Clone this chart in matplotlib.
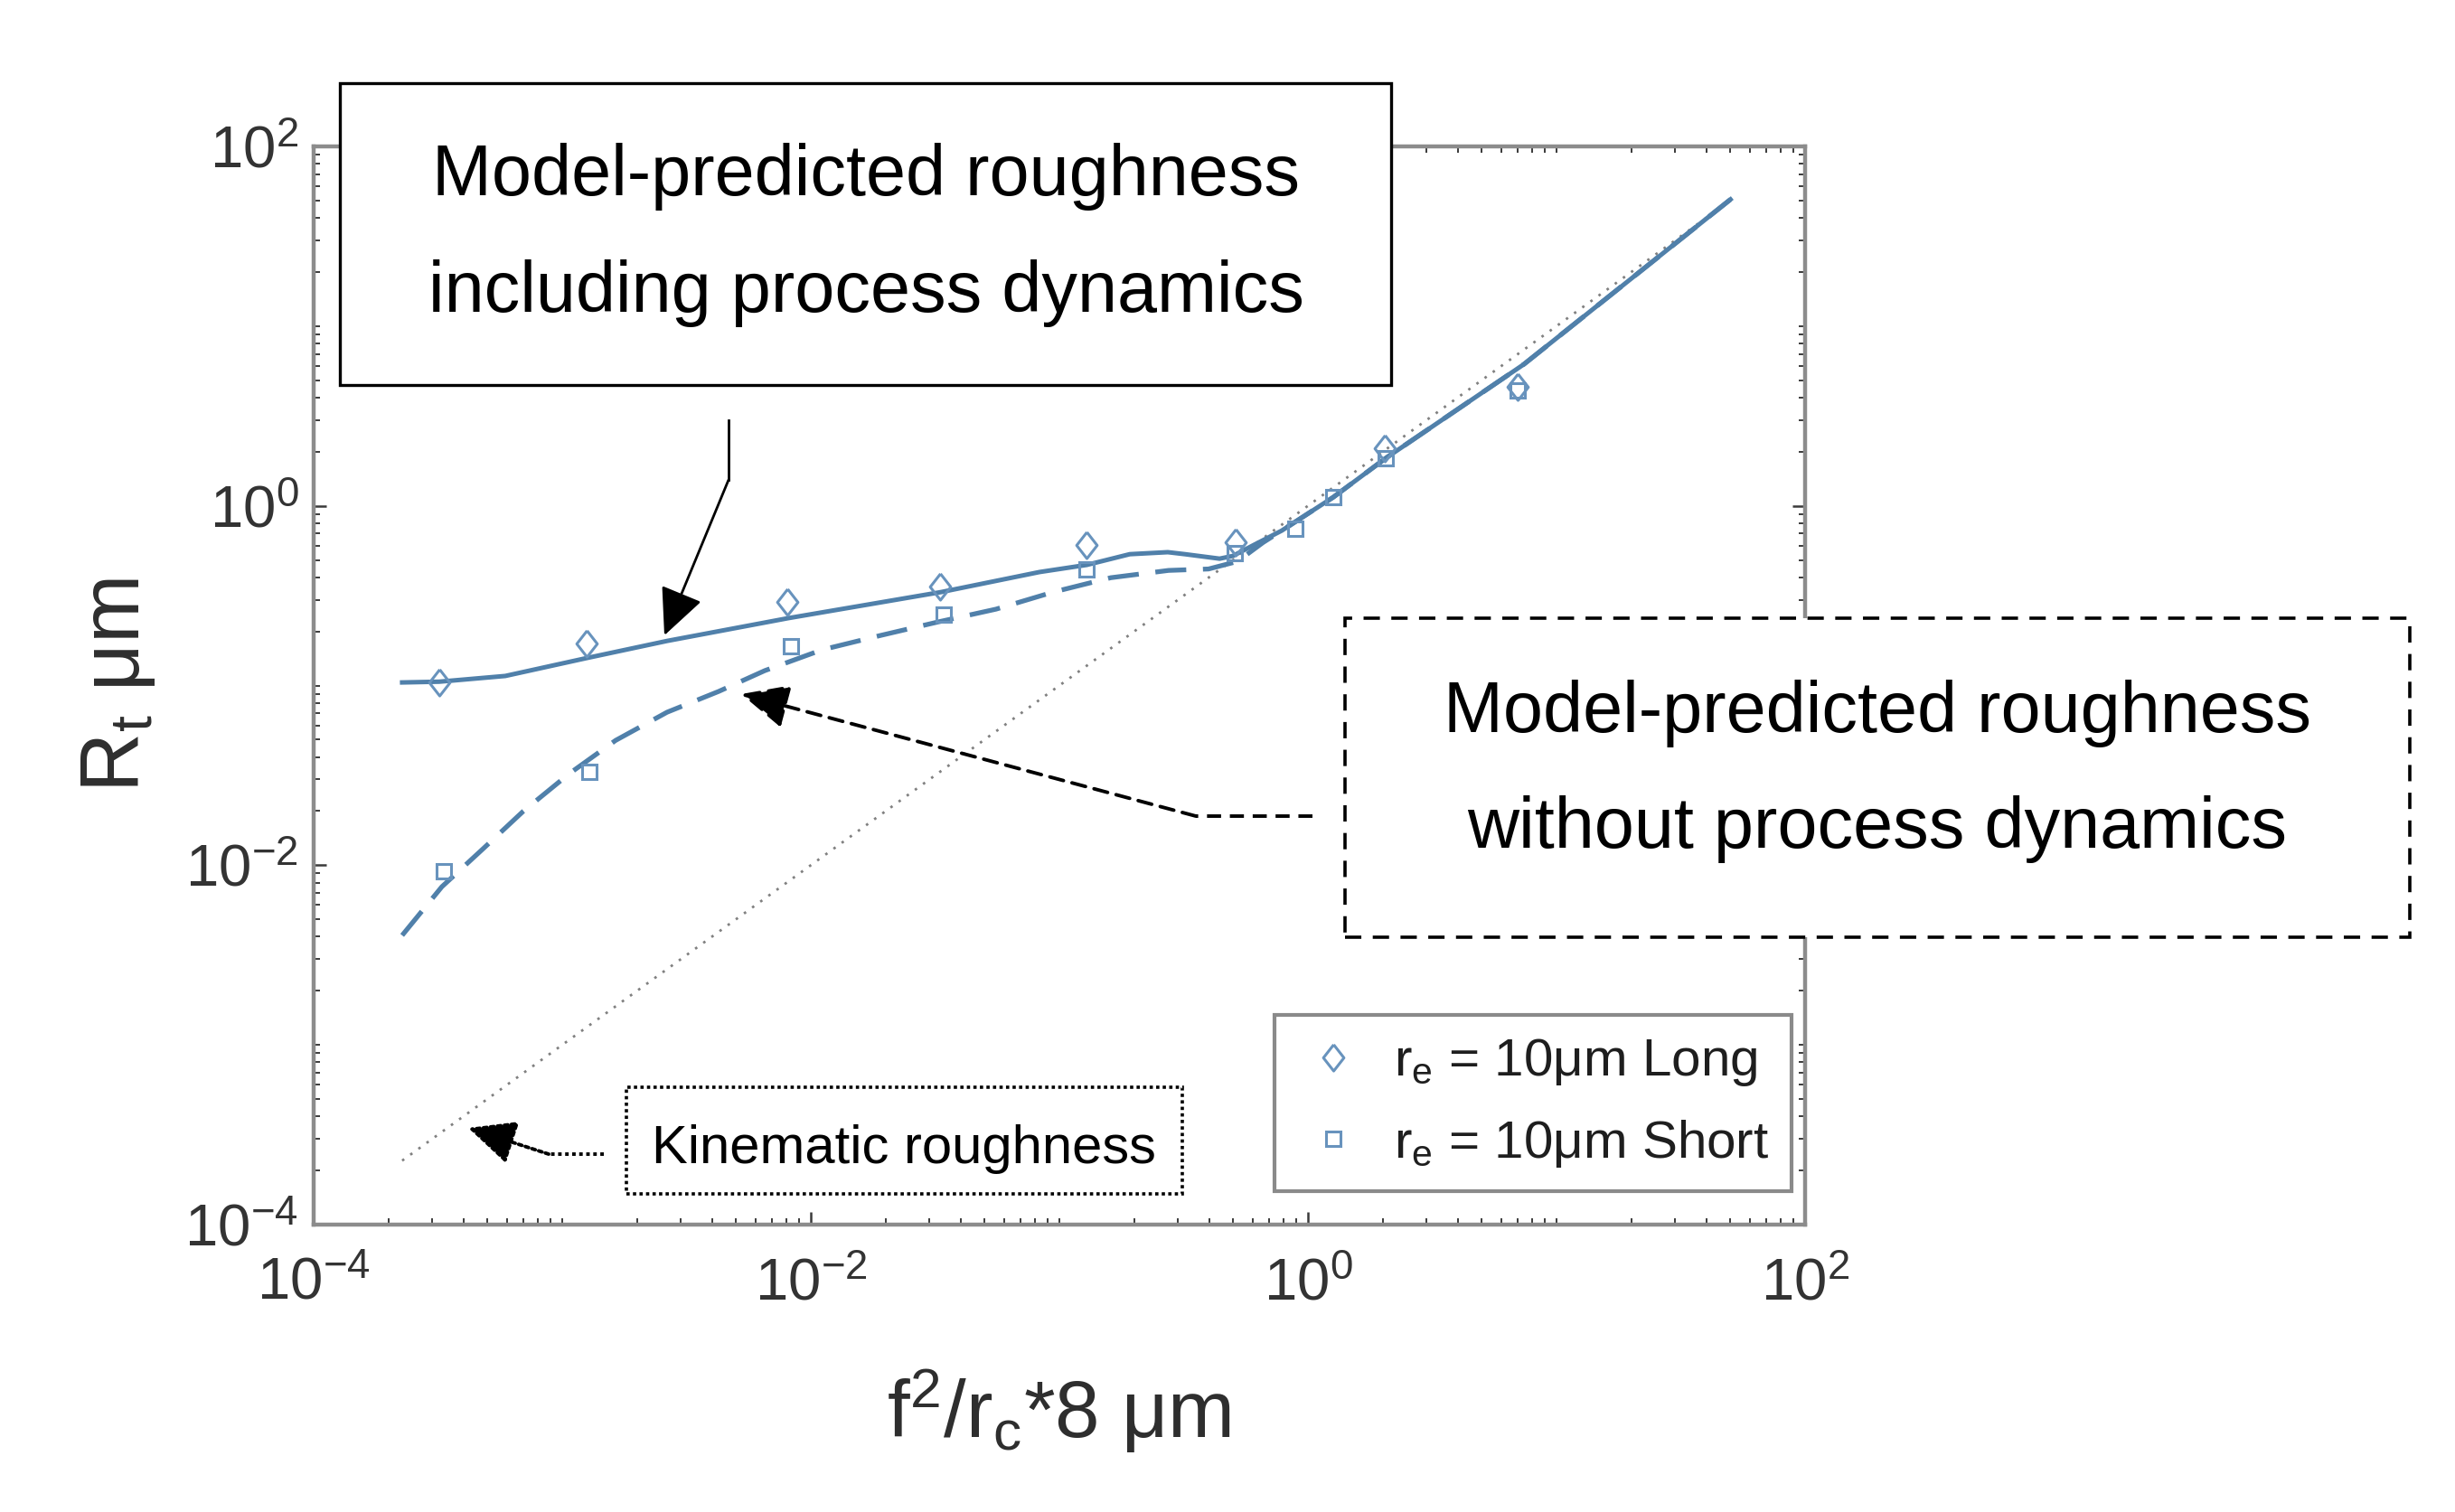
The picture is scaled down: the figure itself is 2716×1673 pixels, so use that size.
import numpy as np
import matplotlib
matplotlib.use('Agg')
import matplotlib.pyplot as plt
from matplotlib.lines import Line2D
from matplotlib.patches import Rectangle, FancyArrowPatch, ArrowStyle
from matplotlib.ticker import LogLocator, NullFormatter

plt.rcParams['font.family'] = ['Liberation Sans', 'DejaVu Sans']
plt.rcParams['mathtext.default'] = 'regular'
plt.rcParams['axes.unicode_minus'] = False

# ---------------- data ----------------
# model-predicted roughness including process dynamics (solid line)
dyn_x = [2.27e-4, 3.20e-4, 5.90e-4, 1.25e-3, 2.64e-3, 8.11e-3, 0.0334, 0.0832,
         0.129, 0.192, 0.273, 0.320, 0.441, 0.499, 0.605, 0.785, 1.265, 2.056,
         7.40, 50.1]
dyn_y = [0.104, 0.105, 0.113, 0.142, 0.177, 0.237, 0.331, 0.428,
         0.469, 0.538, 0.552, 0.538, 0.508, 0.526, 0.605, 0.728, 1.117, 1.841,
         6.14, 50.7]

# model-predicted roughness without process dynamics (dashed line)
nodyn_x = [2.27e-4, 3.28e-4, 4.79e-4, 6.98e-4, 1.07e-3, 1.64e-3, 2.64e-3, 4.26e-3,
           6.53e-3, 0.0111, 0.0191, 0.0326, 0.0556, 0.0944, 0.161, 0.275, 0.398,
           0.52, 0.66, 0.785, 1.265, 2.056, 7.40, 50.1]
nodyn_y = [4.07e-3, 7.59e-3, 0.0123, 0.0200, 0.0324, 0.0495, 0.0710, 0.0927,
           0.121, 0.158, 0.190, 0.226, 0.266, 0.331, 0.398, 0.437, 0.445,
           0.49, 0.625, 0.728, 1.117, 1.841, 6.14, 50.7]

# kinematic roughness (dotted line)
kin_x = [2.27e-4, 50.1]
kin_y = [2.27e-4, 50.1]

# measured points
long_x = [3.20e-4, 1.25e-3, 8.04e-3, 0.0331, 0.129, 0.512, 2.04, 6.98]
long_y = [0.104, 0.171, 0.292, 0.355, 0.605, 0.627, 2.09, 4.59]
short_x = [3.34e-4, 1.29e-3, 8.3e-3, 0.0343, 0.129, 0.507, 0.889, 1.26, 2.06, 6.98]
short_y = [9.3e-3, 0.0331, 0.166, 0.248, 0.443, 0.545, 0.745, 1.12, 1.84, 4.37]

series_labels = [r'$r_e$ = 10μm Long', r'$r_e$ = 10μm Short']
tick_vals = [1e-4, 1e-2, 1e0, 1e2]
tick_labels = ['$10^{-4}$', '$10^{-2}$', '$10^{0}$', '$10^{2}$']
x_label = r'$f^2/r_c$*8 μm'
y_label = r'$R_t$ μm'
box1_lines = ['Model-predicted roughness', 'including process dynamics']
box2_lines = ['Model-predicted roughness', 'without process dynamics']
box3_text = 'Kinematic roughness'

# ---------------- figure ----------------
W, H = 2716, 1673
fig = plt.figure(figsize=(W / 100, H / 100), dpi=100)
ax = fig.add_axes([347 / W, 1 - 1355 / H, 1650 / W, 1193 / H])

blue = '#5080aa'
ax.plot(kin_x, kin_y, color='#808080', lw=2.0, linestyle=(0, (1, 3)), zorder=2)
ax.plot(nodyn_x, nodyn_y, color=blue, lw=3.8, linestyle=(0, (6.5, 3.5)), zorder=3)
ax.plot(dyn_x, dyn_y, color=blue, lw=3.6, zorder=4)

diamond = [(0, 1), (0.78, 0), (0, -1), (-0.78, 0), (0, 1)]
ax.plot(long_x, long_y, linestyle='none', marker=diamond, ms=21, mfc='none',
        mec='#6893bd', mew=2.2, zorder=5, label=series_labels[0])
ax.plot(short_x, short_y, linestyle='none', marker='s', ms=12, mfc='none',
        mec='#6893bd', mew=2.2, zorder=5, label=series_labels[1])

ax.set_xscale('log')
ax.set_yscale('log')
ax.set_xlim(1e-4, 1e2)
ax.set_ylim(1e-4, 1e2)
ax.set_xticks(tick_vals, tick_labels)
ax.set_yticks(tick_vals, tick_labels)
for axis in (ax.xaxis, ax.yaxis):
    axis.set_minor_locator(LogLocator(base=10, subs=np.arange(1, 10), numticks=100))
    axis.set_minor_formatter(NullFormatter())
ax.tick_params(which='both', direction='in', top=True, right=True,
               color='#3a3a3a', labelcolor='#333333')
ax.tick_params(which='major', length=10, width=1.8, labelsize=47)
ax.tick_params(which='minor', length=5, width=1.4)
ax.tick_params(axis='x', which='major', pad=26)
ax.tick_params(axis='y', which='major', pad=12)
for sp in ax.spines.values():
    sp.set_color('#8c8c8c')
    sp.set_linewidth(3.2)

ax.set_xlabel(x_label, fontsize=64, color='#2e2e2e')
ax.xaxis.set_label_coords(0.5, -0.132)
ax.xaxis.label.set_va('top')
ax.set_ylabel(y_label, fontsize=66, color='#2e2e2e')
ax.yaxis.set_label_coords(-0.105, 0.5)

leg = ax.legend(loc='upper left', bbox_to_anchor=(1410 / W, 1 - 1123 / H),
                bbox_transform=fig.transFigure, borderaxespad=0, fontsize=42,
                handlelength=1.4, handletextpad=0.45, borderpad=0.42,
                labelspacing=0.55, fancybox=False, framealpha=1)
leg.get_frame().set_edgecolor('#8a8a8a')
leg.get_frame().set_linewidth(3.0)
for t in leg.get_texts():
    t.set_color('#1e1e1e')

# ---------------- annotation boxes ----------------
def fx(px):
    return px / W

def fy(py):
    return 1 - py / H

def box(x0, y0, x1, y1, ls, lw):
    r = Rectangle((fx(x0), fy(y1)), fx(x1) - fx(x0), fy(y0) - fy(y1),
                  transform=fig.transFigure, facecolor='white', edgecolor='black',
                  linestyle=ls, linewidth=lw, zorder=10)
    fig.add_artist(r)

box(376, 92, 1539, 426, '-', 2.4)
fig.text(fx(958), fy(216), box1_lines[0], fontsize=57, ha='center', va='baseline', zorder=11)
fig.text(fx(958), fy(345), box1_lines[1], fontsize=57, ha='center', va='baseline', zorder=11)

box(1488, 684, 2666, 1037, (0, (5, 3.5)), 2.6)
fig.text(fx(2077), fy(810), box2_lines[0], fontsize=57, ha='center', va='baseline', zorder=11)
fig.text(fx(2077), fy(938), box2_lines[1], fontsize=57, ha='center', va='baseline', zorder=11)

box(693, 1203, 1308, 1321, (0, (1, 1)), 2.6)
fig.text(fx(1000), fy(1287), box3_text, fontsize=43, ha='center', va='baseline', zorder=11)

# ---------------- arrows ----------------
def arrow(pts, ls, lw):
    xs = [fx(p[0]) for p in pts[:-1]]
    ys = [fy(p[1]) for p in pts[:-1]]
    fig.add_artist(Line2D(xs, ys, transform=fig.transFigure, color='black',
                          lw=lw, linestyle=ls, zorder=12))
    a = FancyArrowPatch((fx(pts[-2][0]), fy(pts[-2][1])), (fx(pts[-1][0]), fy(pts[-1][1])),
                        transform=fig.transFigure,
                        arrowstyle=ArrowStyle('-|>', head_length=0.9, head_width=0.42),
                        mutation_scale=36, color='black', lw=lw, linestyle=ls,
                        shrinkA=0, shrinkB=0, zorder=12)
    fig.add_artist(a)

arrow([(806, 465), (806, 531), (735, 703)], '-', 2.0)
arrow([(1452, 903), (1323, 903), (820, 768)], (0, (4, 2.5)), 2.8)
arrow([(668, 1277), (607, 1277), (518, 1248)], (0, (1, 1)), 2.8)

fig.savefig('out.png', dpi=100, facecolor='white')
